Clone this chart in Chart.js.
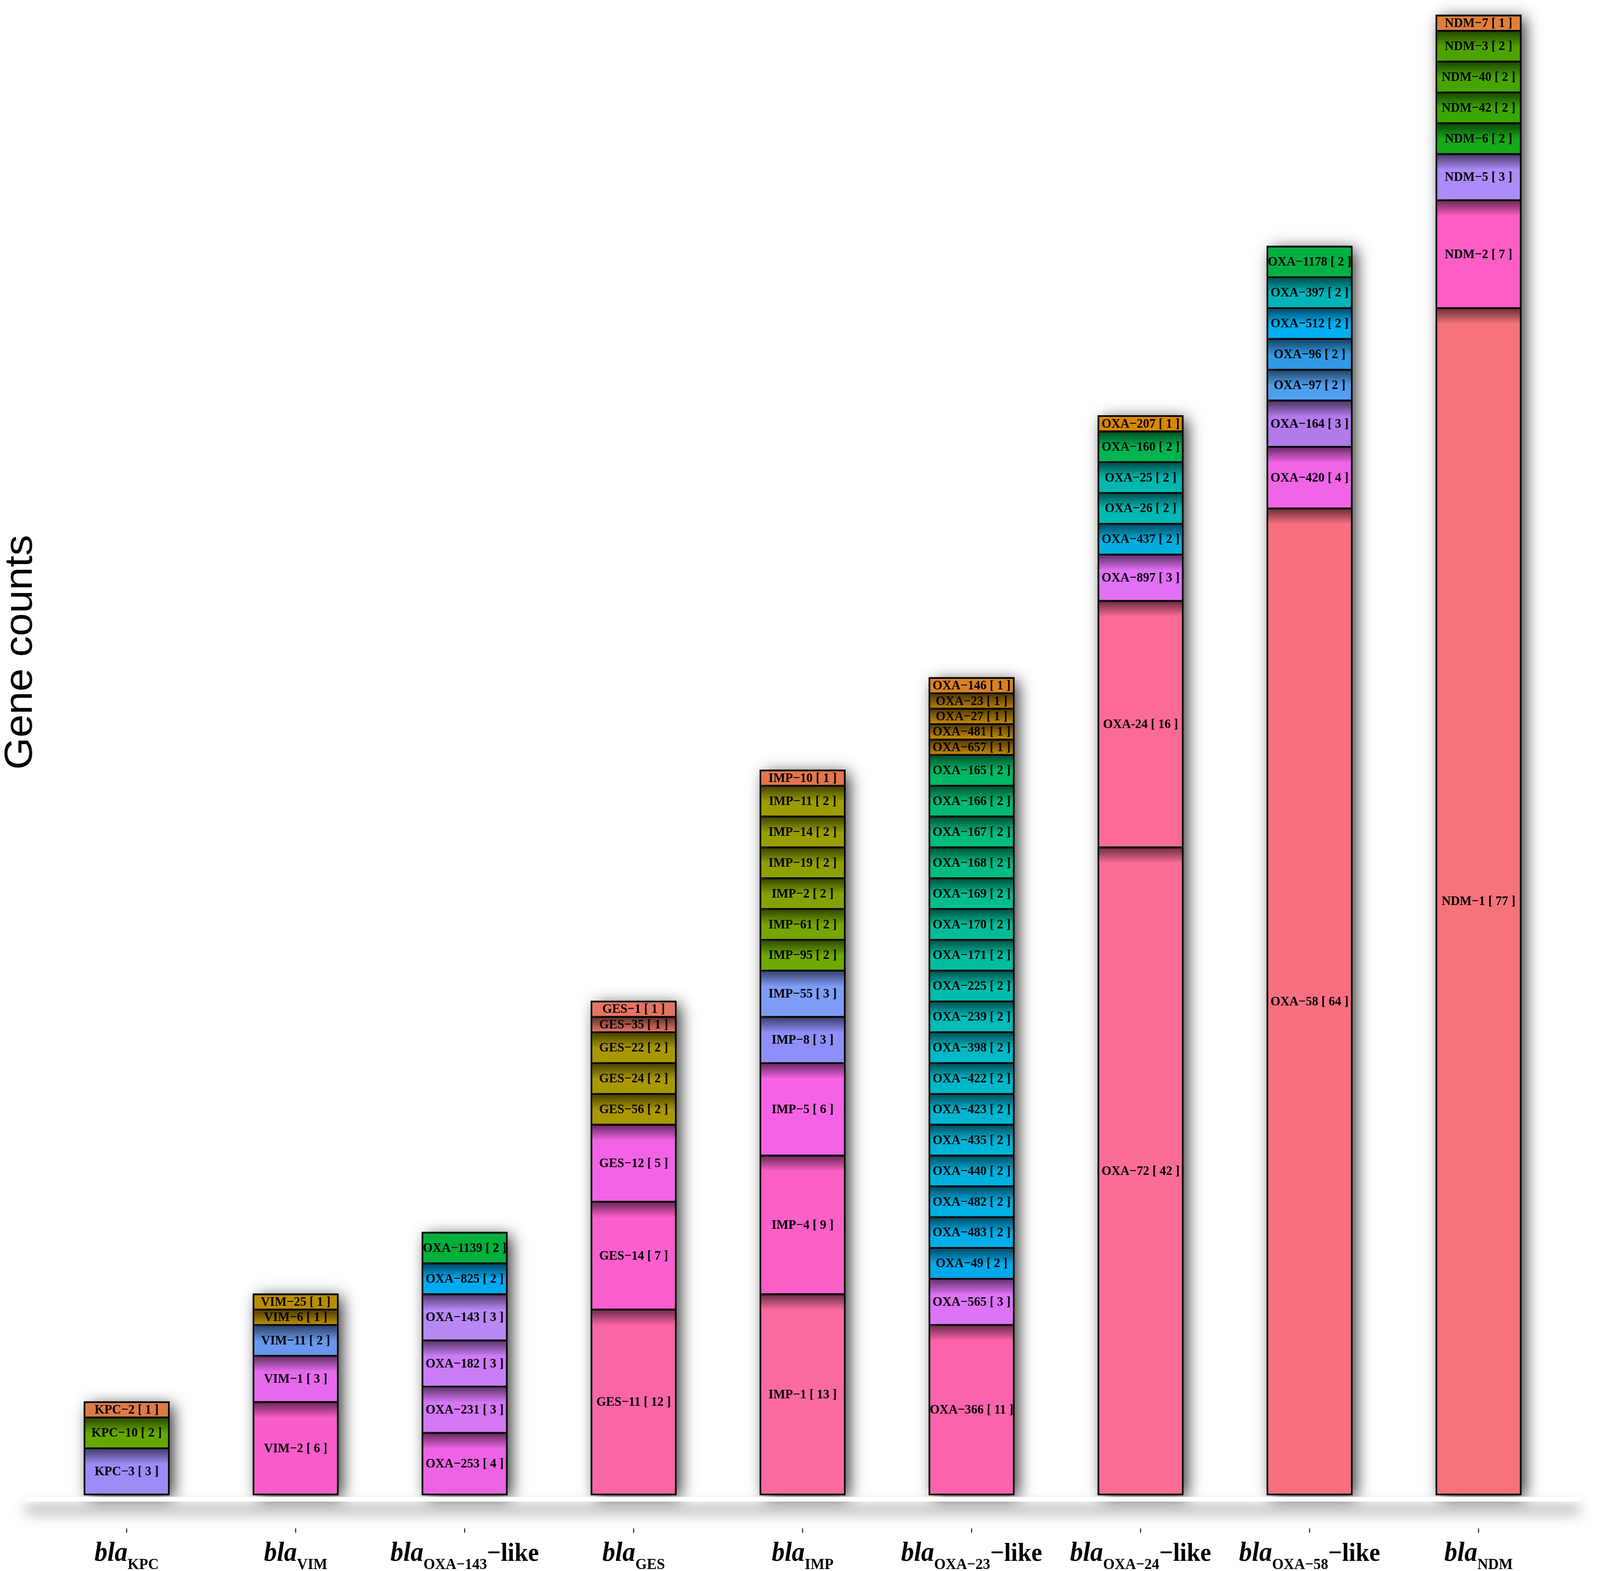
<!DOCTYPE html>
<html>
<head>
<meta charset="utf-8">
<script src="https://cdn.jsdelivr.net/npm/chart.js@4.4.0/dist/chart.umd.min.js"></script>
<style>
  html, body { margin: 0; padding: 0; background: #fff; overflow: hidden; }
  #wrap { width: 4327px; height: 4022px; position: relative; transform-origin: 0 0; }
</style>
</head>
<body>
<div id="wrap"><canvas id="chart"></canvas></div>
<script>
// gene families (x categories) and their axis labels
const categories = ['KPC', 'VIM', 'OXA-143', 'GES', 'IMP', 'OXA-23', 'OXA-24', 'OXA-58', 'NDM'];
const likeSuffix = [false, false, true, false, false, true, true, true, false];

// variants per family, bottom -> top, with counts
const kpcGenes = ['KPC−3', 'KPC−10', 'KPC−2'];
const kpcCounts = [3, 2, 1];
const vimGenes = ['VIM−2', 'VIM−1', 'VIM−11', 'VIM−6', 'VIM−25'];
const vimCounts = [6, 3, 2, 1, 1];
const oxa143Genes = ['OXA−253', 'OXA−231', 'OXA−182', 'OXA−143', 'OXA−825', 'OXA−1139'];
const oxa143Counts = [4, 3, 3, 3, 2, 2];
const gesGenes = ['GES−11', 'GES−14', 'GES−12', 'GES−56', 'GES−24', 'GES−22', 'GES−35', 'GES−1'];
const gesCounts = [12, 7, 5, 2, 2, 2, 1, 1];
const impGenes = ['IMP−1', 'IMP−4', 'IMP−5', 'IMP−8', 'IMP−55', 'IMP−95', 'IMP−61', 'IMP−2', 'IMP−19', 'IMP−14', 'IMP−11', 'IMP−10'];
const impCounts = [13, 9, 6, 3, 3, 2, 2, 2, 2, 2, 2, 1];
const oxa23Genes = ['OXA−366', 'OXA−565', 'OXA−49', 'OXA−483', 'OXA−482', 'OXA−440', 'OXA−435', 'OXA−423', 'OXA−422',
  'OXA−398', 'OXA−239', 'OXA−225', 'OXA−171', 'OXA−170', 'OXA−169', 'OXA−168', 'OXA−167', 'OXA−166', 'OXA−165',
  'OXA−657', 'OXA−481', 'OXA−27', 'OXA−23', 'OXA−146'];
const oxa23Counts = [11, 3, 2, 2, 2, 2, 2, 2, 2, 2, 2, 2, 2, 2, 2, 2, 2, 2, 2, 1, 1, 1, 1, 1];
const oxa24Genes = ['OXA−72', 'OXA-24', 'OXA−897', 'OXA−437', 'OXA−26', 'OXA−25', 'OXA−160', 'OXA−207'];
const oxa24Counts = [42, 16, 3, 2, 2, 2, 2, 1];
const oxa58Genes = ['OXA−58', 'OXA−420', 'OXA−164', 'OXA−97', 'OXA−96', 'OXA−512', 'OXA−397', 'OXA−1178'];
const oxa58Counts = [64, 4, 3, 2, 2, 2, 2, 2];
const ndmGenes = ['NDM−1', 'NDM−2', 'NDM−5', 'NDM−6', 'NDM−42', 'NDM−40', 'NDM−3', 'NDM−7'];
const ndmCounts = [77, 7, 3, 2, 2, 2, 2, 1];

// fill colours, same order as above
const kpcColors = ['#9d8cf5', '#67a800', '#de7a48'];
const vimColors = ['#f95ccb', '#e66aee', '#6797ee', '#b98d00', '#b98d00'];
const oxa143Colors = ['#ec63e4', '#d677f5', '#cc7cf7', '#b888f5', '#00aaf0', '#00ae3c'];
const gesColors = ['#fa66a6', '#fb5ecd', '#f263e6', '#a99800', '#a99800', '#a99800', '#e57462', '#e57462'];
const impColors = ['#fb6aa0', '#fc5fc6', '#f662e6', '#8f8ffc', '#7f9cf6', '#6eaa00', '#77a600', '#84a300',
  '#8f9f00', '#989e00', '#9d9b00', '#e5754c'];
const oxa23Colors = ['#fc63ae', '#dd73f6', '#00a9ec', '#00adea', '#00afe4', '#00b1de', '#00b3d8', '#00b5d0',
  '#00b7ca', '#00b9c4', '#00bbb8', '#00bcac', '#00bda2', '#00bd98', '#00bd8e', '#00bc84', '#00bb7a', '#00b970',
  '#00b866', '#c28600', '#c68a00', '#c48700', '#b57c00', '#da8126'];
const oxa24Colors = ['#fb6d95', '#fc6b96', '#e070f4', '#00aedd', '#00b8b6', '#00b6ae', '#00b552', '#d98500'];
const oxa58Colors = ['#f8707f', '#f064e6', '#b27aea', '#4f9fef', '#2f99e6', '#00aff2', '#00b4b8', '#00b044'];
const ndmColors = ['#f5737a', '#fc5ec5', '#ac8cf9', '#18a818', '#3aa800', '#46a500', '#4ea200', '#e07f3a'];

const allGenes = [kpcGenes, vimGenes, oxa143Genes, gesGenes, impGenes, oxa23Genes, oxa24Genes, oxa58Genes, ndmGenes];
const allCounts = [kpcCounts, vimCounts, oxa143Counts, gesCounts, impCounts, oxa23Counts, oxa24Counts, oxa58Counts, ndmCounts];
const allColors = [kpcColors, vimColors, oxa143Colors, gesColors, impColors, oxa23Colors, oxa24Colors, oxa58Colors, ndmColors];

// the browser may be narrower than 4327: draw at full size and squeeze to fit
const wrap = document.getElementById('wrap');
wrap.style.transform = 'scale(' + (window.innerWidth / 4327) + ',' + (window.innerHeight / 4022) + ')';

// one dataset per stacking level
const levels = Math.max(...allCounts.map(c => c.length));
const datasets = [];
for (let i = 0; i < levels; i++) {
  datasets.push({
    data: categories.map((c, j) => allCounts[j][i] ?? null),
    names: categories.map((c, j) => allGenes[j][i] ?? ''),
    backgroundColor: categories.map((c, j) => allColors[j][i] ?? '#fff'),
    borderColor: '#000',
    borderWidth: 2.5,
    borderSkipped: false,
    barPercentage: 0.5,
    categoryPercentage: 1.0,
    stack: 's'
  });
}

const AXIS_Y = 3913;

function stackBox(chart, j) {
  let top = Infinity, bottom = -Infinity, left = 0, width = 0;
  chart.data.datasets.forEach((ds, i) => {
    if (ds.data[j] == null) return;
    const el = chart.getDatasetMeta(i).data[j];
    top = Math.min(top, el.y);
    bottom = Math.max(bottom, el.base);
    left = el.x - el.width / 2;
    width = el.width;
  });
  return { top, bottom, left, width };
}

const effects = {
  id: 'effects',
  beforeDatasetsDraw(chart) {
    const ctx = chart.ctx;
    const OFF = 20000;
    categories.forEach((c, j) => {
      const b = stackBox(chart, j);
      ctx.save();
      ctx.shadowColor = 'rgba(0,0,0,0.8)';
      ctx.shadowBlur = 40;
      ctx.shadowOffsetX = OFF + 12;
      ctx.shadowOffsetY = 8;
      ctx.fillStyle = '#000';
      ctx.fillRect(b.left - OFF, b.top, b.width, b.bottom - b.top);
      ctx.restore();
    });
  },
  afterDatasetsDraw(chart) {
    const ctx = chart.ctx;
    const xs = chart.scales.x;
    const step = xs.getPixelForValue(1) - xs.getPixelForValue(0);
    const lineL = xs.getPixelForValue(0) - 0.6 * step;
    const lineR = xs.getPixelForValue(categories.length - 1) + 0.6 * step;
    const base = chart.scales.y.getPixelForValue(0);

    // white baseline with soft shadow underneath
    ctx.save();
    ctx.shadowColor = 'rgba(0,0,0,0.6)';
    ctx.shadowBlur = 36;
    ctx.shadowOffsetY = 26;
    ctx.fillStyle = '#fff';
    ctx.fillRect(lineL, base + 6, lineR - lineL, 12);
    ctx.restore();
    ctx.fillStyle = '#fff';
    ctx.fillRect(lineL, base + 6, lineR - lineL, 11);

    // darker band at the top of each segment that has another one above it
    chart.data.datasets.forEach((ds, i) => {
      const meta = chart.getDatasetMeta(i);
      ds.data.forEach((v, j) => {
        if (v == null) return;
        const next = chart.data.datasets[i + 1];
        if (!next || next.data[j] == null) return;
        const el = meta.data[j];
        const top = el.y + 2.5;
        const h = Math.min(38, el.base - el.y - 5);
        const g = ctx.createLinearGradient(0, top, 0, top + h);
        g.addColorStop(0, 'rgba(0,0,0,0.55)');
        g.addColorStop(1, 'rgba(0,0,0,0)');
        ctx.fillStyle = g;
        ctx.fillRect(el.x - el.width / 2 + 2.5, top, el.width - 5, h);
      });
    });

    // heavier outline round each stack
    ctx.save();
    ctx.strokeStyle = '#000';
    ctx.lineWidth = 4;
    categories.forEach((c, j) => {
      const b = stackBox(chart, j);
      ctx.strokeRect(b.left, b.top, b.width, b.bottom - b.top);
    });
    ctx.restore();

    // segment labels
    ctx.save();
    ctx.fillStyle = '#000';
    ctx.font = 'bold 34px "Liberation Serif", "Times New Roman", serif';
    ctx.textAlign = 'center';
    ctx.textBaseline = 'middle';
    chart.data.datasets.forEach((ds, i) => {
      const meta = chart.getDatasetMeta(i);
      ds.data.forEach((v, j) => {
        if (v == null) return;
        const el = meta.data[j];
        ctx.fillText(ds.names[j] + ' [ ' + v + ' ]', el.x, (el.y + el.base) / 2 + 1);
      });
    });
    ctx.restore();
  },
  afterDraw(chart) {
    const ctx = chart.ctx;
    const xs = chart.scales.x;
    ctx.save();
    // ticks
    ctx.strokeStyle = '#333';
    ctx.lineWidth = 3;
    categories.forEach((c, j) => {
      const x = xs.getPixelForValue(j);
      ctx.beginPath();
      ctx.moveTo(x, AXIS_Y);
      ctx.lineTo(x, AXIS_Y + 11);
      ctx.stroke();
    });
    // tick labels: italic "bla" + subscript family (+ "-like")
    const fMain = 'italic bold 70px "Liberation Serif", "Times New Roman", serif';
    const fSub = 'bold 40px "Liberation Serif", "Times New Roman", serif';
    const fLike = 'bold 66px "Liberation Serif", "Times New Roman", serif';
    const baseY = 3996;
    ctx.fillStyle = '#000';
    ctx.textBaseline = 'alphabetic';
    ctx.textAlign = 'left';
    categories.forEach((c, j) => {
      const sub = c.replace('-', '−');
      const like = likeSuffix[j] ? '−like' : '';
      ctx.font = fMain; const w1 = ctx.measureText('bla').width;
      ctx.font = fSub; const w2 = ctx.measureText(sub).width;
      ctx.font = fLike; const w3 = like ? ctx.measureText(like).width : 0;
      let x = xs.getPixelForValue(j) - (w1 + w2 + w3) / 2;
      ctx.font = fMain; ctx.fillText('bla', x, baseY); x += w1;
      ctx.font = fSub; ctx.fillText(sub, x, baseY + 21); x += w2;
      if (like) { ctx.font = fLike; ctx.fillText(like, x, baseY); }
    });
    // y title
    ctx.translate(86, 1670);
    ctx.rotate(-Math.PI / 2);
    ctx.textAlign = 'center';
    ctx.font = '106px "Liberation Sans", Arial, sans-serif';
    ctx.fillText('Gene counts', 0, 0);
    ctx.restore();
  }
};

new Chart(document.getElementById('chart'), {
  type: 'bar',
  data: { labels: categories, datasets },
  options: {
    responsive: true,
    maintainAspectRatio: false,
    animation: false,
    layout: { padding: { left: 114, right: 100, top: 0, bottom: 4022 - AXIS_Y } },
    plugins: { legend: { display: false }, tooltip: { enabled: false } },
    scales: {
      x: { stacked: true, display: false, offset: true, grid: { display: false } },
      y: { stacked: true, display: false, min: -2.2, max: 97 }
    }
  },
  plugins: [effects]
});
</script>
</body>
</html>
